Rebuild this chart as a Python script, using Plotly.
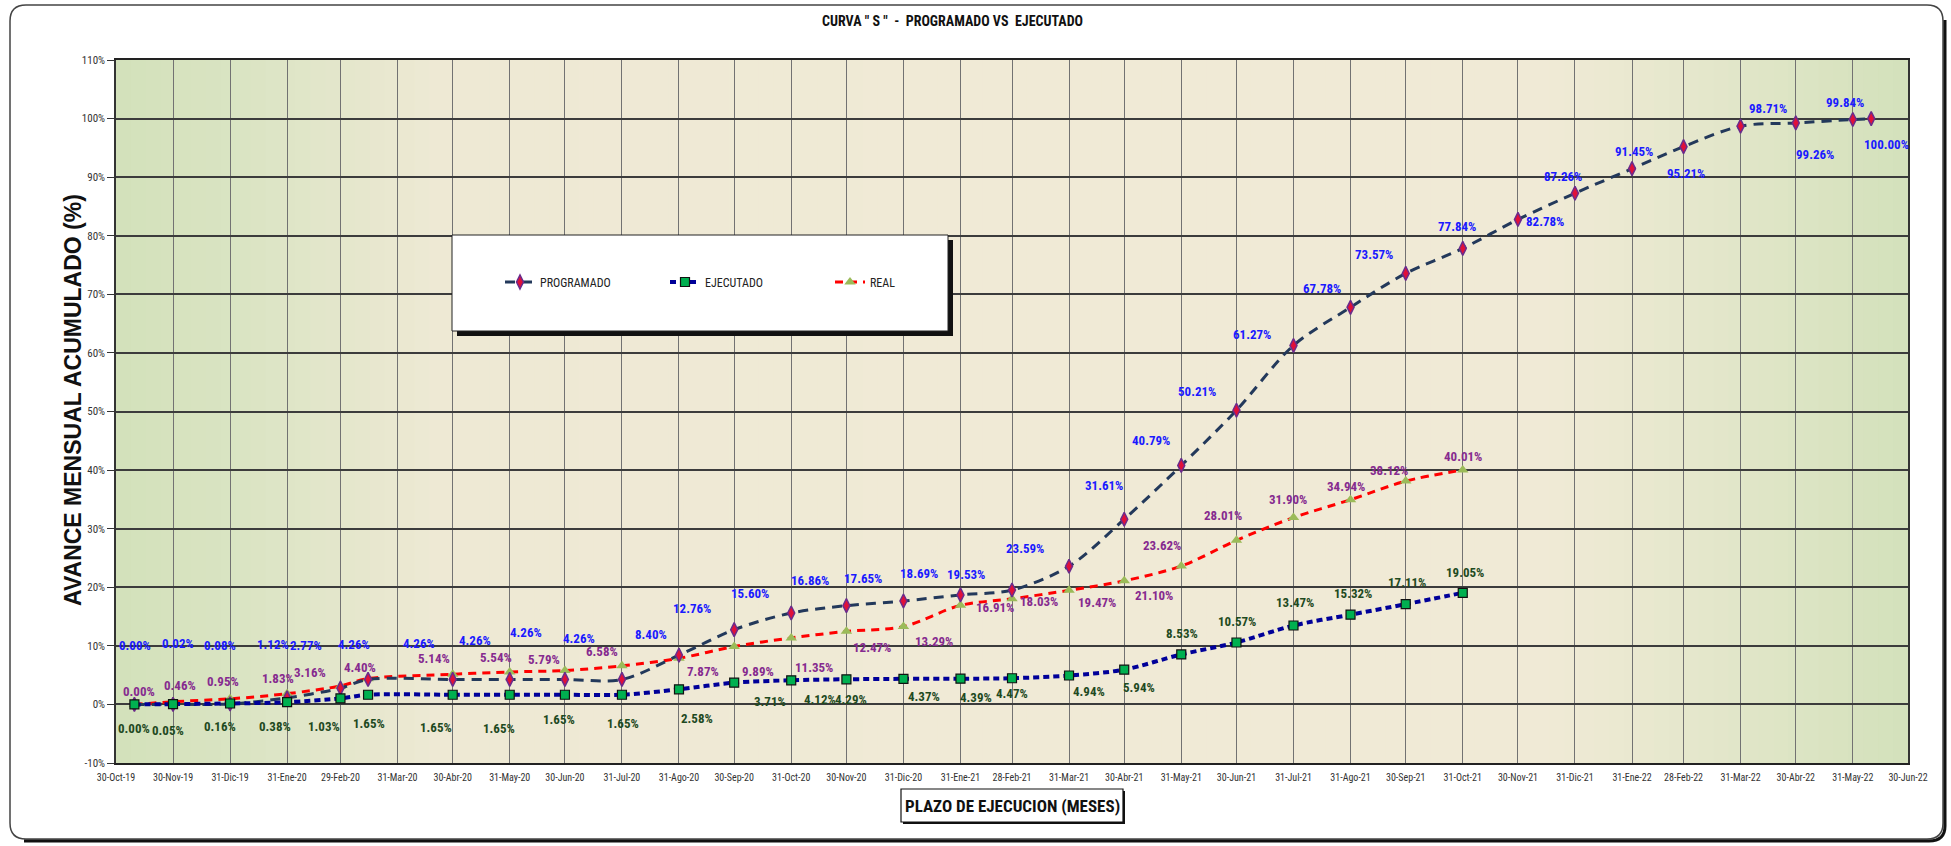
import plotly.graph_objects as go

# ---------------- DATA ----------------
PROG_DATES = ["2019-11-09", "2019-11-30", "2019-12-31", "2020-01-31", "2020-02-29", "2020-03-15",
              "2020-04-30", "2020-05-31", "2020-06-30", "2020-07-31", "2020-08-31", "2020-09-30",
              "2020-10-31", "2020-11-30", "2020-12-31", "2021-01-31", "2021-02-28", "2021-03-31",
              "2021-04-30", "2021-05-31", "2021-06-30", "2021-07-31", "2021-08-31", "2021-09-30",
              "2021-10-31", "2021-11-30", "2021-12-31", "2022-01-31", "2022-02-28", "2022-03-31",
              "2022-04-30", "2022-05-31", "2022-06-10"]
PROGRAMADO = [0.00, 0.02, 0.08, 1.12, 2.77, 4.26, 4.26, 4.26, 4.26, 4.26, 8.40, 12.76, 15.60,
              16.86, 17.65, 18.69, 19.53, 23.59, 31.61, 40.79, 50.21, 61.27, 67.78, 73.57,
              77.84, 82.78, 87.26, 91.45, 95.21, 98.71, 99.26, 99.84, 100.00]

EXEC_DATES = PROG_DATES[:25]
EJECUTADO = [0.00, 0.05, 0.16, 0.38, 1.03, 1.65, 1.65, 1.65, 1.65, 1.65, 2.58, 3.71, 4.12,
             4.29, 4.37, 4.39, 4.47, 4.94, 5.94, 8.53, 10.57, 13.47, 15.32, 17.11, 19.05]
REAL = [0.00, 0.46, 0.95, 1.83, 3.16, 4.40, 5.14, 5.54, 5.79, 6.58, 7.87, 9.89, 11.35,
        12.47, 13.29, 16.91, 18.03, 19.47, 21.10, 23.62, 28.01, 31.90, 34.94, 38.12, 40.01]

TICK_DATES = ["2019-10-30", "2019-11-30", "2019-12-31", "2020-01-31", "2020-02-29", "2020-03-31",
              "2020-04-30", "2020-05-31", "2020-06-30", "2020-07-31", "2020-08-31", "2020-09-30",
              "2020-10-31", "2020-11-30", "2020-12-31", "2021-01-31", "2021-02-28", "2021-03-31",
              "2021-04-30", "2021-05-31", "2021-06-30", "2021-07-31", "2021-08-31", "2021-09-30",
              "2021-10-31", "2021-11-30", "2021-12-31", "2022-01-31", "2022-02-28", "2022-03-31",
              "2022-04-30", "2022-05-31", "2022-06-30"]
TICK_LABELS = ["30-Oct-19", "30-Nov-19", "31-Dic-19", "31-Ene-20", "29-Feb-20", "31-Mar-20",
               "30-Abr-20", "31-May-20", "30-Jun-20", "31-Jul-20", "31-Ago-20", "30-Sep-20",
               "31-Oct-20", "30-Nov-20", "31-Dic-20", "31-Ene-21", "28-Feb-21", "31-Mar-21",
               "30-Abr-21", "31-May-21", "30-Jun-21", "31-Jul-21", "31-Ago-21", "30-Sep-21",
               "31-Oct-21", "30-Nov-21", "31-Dic-21", "31-Ene-22", "28-Feb-22", "31-Mar-22",
               "30-Abr-22", "31-May-22", "30-Jun-22"]
Y_TICKS = [-10, 0, 10, 20, 30, 40, 50, 60, 70, 80, 90, 100, 110]

# ---------------- STYLE (label offsets in screen px: dx right, dy down) ----------------
PROG_OFF = [(1, -59), (5, -61), (-10, -58), (-14, -53), (-34, -43), (-14, -35), (-34, -36),
            (-35, -39), (-39, -47), (-43, -41), (-28, -21), (-42, -21), (-41, -20), (-36, -25),
            (-40, -23), (-41, -21), (-46, -16), (-44, -18), (-20, -34), (-30, -25), (-39, -19),
            (-41, -11), (-29, -19), (-32, -19), (-6, -22), (27, 2), (-12, -17), (2, -17),
            (2, 27), (27, -18), (19, 32), (-8, -17), (15, 26)]
REAL_OFF = [(5, -13), (7, -16), (-7, -17), (-9, -15), (-30, -13), (-8, -11), (-19, -16),
            (-14, -14), (-21, -11), (-20, -14), (24, 13), (24, 25), (23, 30), (26, 16),
            (31, 15), (35, 2), (27, 3), (28, 12), (30, 15), (-19, -21), (-13, -25), (-5, -18),
            (-5, -13), (-17, -11), (0, -14)]
EJEC_OFF = [(0, 24), (-5, 26), (-10, 23), (-12, 24), (-16, 28), (1, 29), (-17, 33), (-11, 34),
            (-6, 25), (1, 29), (18, 29), (36, 19), (29, 19), (5, 20), (21, 18), (16, 19),
            (0, 15), (20, 16), (15, 18), (1, -21), (1, -21), (2, -23), (2, -21), (1, -22),
            (2, -20)]

W, H = 1951, 846
PL, PR, PT, PB = 116, 1908, 60, 763
NARROW = "Liberation Sans Narrow, Arial Narrow, Roboto Condensed, DejaVu Sans Condensed, sans-serif"
ARIAL = "Liberation Sans, Arial, sans-serif"


def pxx(x):
    return (x - PL) / (PR - PL)


def pyy(y):
    return (PB - y) / (PB - PT)


fig = go.Figure()

fig.add_trace(go.Scatter(
    x=EXEC_DATES, y=REAL, name="REAL", mode="lines+markers", legendrank=3,
    line=dict(color="#ff0000", width=3, dash="8px,6px", shape="spline", smoothing=0.9),
    marker=dict(symbol="triangle-up", size=10, color="#9bbb59", line=dict(width=0)),
))
fig.add_trace(go.Scatter(
    x=PROG_DATES, y=PROGRAMADO, name="PROGRAMADO", mode="lines+markers", legendrank=1,
    line=dict(color="#23395b", width=3, dash="10px,7px", shape="spline", smoothing=0.9),
    marker=dict(symbol="diamond-tall", size=10, color="#e0103a", line=dict(color="#6a2c8c", width=1.5)),
))
fig.add_trace(go.Scatter(
    x=EXEC_DATES, y=EJECUTADO, name="EJECUTADO", mode="lines+markers", legendrank=2,
    line=dict(color="#000099", width=4, dash="6px,4px", shape="spline", smoothing=0.9),
    marker=dict(symbol="square", size=9, color="#00b050", line=dict(color="#111111", width=1.2)),
))

annotations = []


def add_labels(dates, vals, offs, color):
    for d, v, (dx, dy) in zip(dates, vals, offs):
        annotations.append(dict(
            x=d, y=v, xref="x", yref="y", text=f"{v:.2f}%", showarrow=False,
            xanchor="center", yanchor="middle", xshift=dx, yshift=-dy,
            font=dict(family=NARROW, size=13, color=color, weight="bold"),
        ))


add_labels(PROG_DATES, PROGRAMADO, PROG_OFF, "#1a1aff")
add_labels(EXEC_DATES, REAL, REAL_OFF, "#862a8f")
add_labels(EXEC_DATES, EJECUTADO, EJEC_OFF, "#1f4a1f")

# Title
annotations.append(dict(
    x=pxx(952), y=pyy(21), xref="paper", yref="paper", showarrow=False,
    xanchor="center", yanchor="middle",
    text='CURVA " S "\u00a0\u00a0-\u00a0\u00a0PROGRAMADO VS\u00a0\u00a0EJECUTADO',
    font=dict(family=NARROW, size=14, color="#111111", weight="bold"),
))
# Y title
annotations.append(dict(
    x=pxx(73), y=pyy(400), xref="paper", yref="paper", showarrow=False, textangle=-90,
    xanchor="center", yanchor="middle",
    text="AVANCE MENSUAL ACUMULADO (%)",
    font=dict(family=ARIAL, size=23, color="#111111", weight="bold"),
))
# X title
annotations.append(dict(
    x=pxx(1012), y=pyy(806), xref="paper", yref="paper", showarrow=False,
    xanchor="center", yanchor="middle",
    text="PLAZO DE EJECUCION (MESES)",
    font=dict(family=NARROW, size=17, color="#111111", weight="bold"),
))

shapes = []
# background gradient
stops = [(0.0, (211, 225, 187)), (0.07, (218, 228, 195)), (0.18, (238, 233, 212)),
         (0.5, (240, 234, 214)), (0.80, (240, 234, 214)), (0.88, (229, 231, 204)),
         (1.0, (211, 225, 187))]


def col(f):
    for (f0, c0), (f1, c1) in zip(stops[:-1], stops[1:]):
        if f0 <= f <= f1:
            t = (f - f0) / (f1 - f0)
            return "rgb(%d,%d,%d)" % tuple(round(a + (b - a) * t) for a, b in zip(c0, c1))
    return "rgb(240,234,214)"


N = 120
for i in range(N):
    f0, f1 = i / N, (i + 1) / N
    shapes.append(dict(type="rect", xref="paper", yref="paper", x0=f0, x1=min(1, f1 + 0.002), y0=0, y1=1,
                       fillcolor=col((f0 + f1) / 2), line=dict(width=0), layer="below"))

# legend box with shadow
shapes.append(dict(type="rect", xref="paper", yref="paper", x0=pxx(457), x1=pxx(953), y0=pyy(336), y1=pyy(240),
                   fillcolor="#111111", line=dict(width=0), layer="above"))
shapes.append(dict(type="rect", xref="paper", yref="paper", x0=pxx(452), x1=pxx(948), y0=pyy(331), y1=pyy(235),
                   fillcolor="#ffffff", line=dict(color="#222222", width=1), layer="above"))

# x title box with shadow
shapes.append(dict(type="rect", xref="paper", yref="paper", x0=pxx(903), x1=pxx(1125), y0=pyy(824), y1=pyy(791),
                   fillcolor="#111111", line=dict(width=0)))
shapes.append(dict(type="rect", xref="paper", yref="paper", x0=pxx(901), x1=pxx(1123), y0=pyy(822), y1=pyy(789),
                   fillcolor="#ffffff", line=dict(color="#111111", width=1.2)))


# outer rounded frame
def rounded(x0, y0, x1, y1, r):
    X = pxx
    Y = pyy
    return (f"M {X(x0 + r)} {Y(y0)} L {X(x1 - r)} {Y(y0)} Q {X(x1)} {Y(y0)} {X(x1)} {Y(y0 + r)} "
            f"L {X(x1)} {Y(y1 - r)} Q {X(x1)} {Y(y1)} {X(x1 - r)} {Y(y1)} "
            f"L {X(x0 + r)} {Y(y1)} Q {X(x0)} {Y(y1)} {X(x0)} {Y(y1 - r)} "
            f"L {X(x0)} {Y(y0 + r)} Q {X(x0)} {Y(y0)} {X(x0 + r)} {Y(y0)} Z")


shapes.append(dict(type="path", xref="paper", yref="paper", path=rounded(10, 5, 1943, 839, 16),
                   line=dict(color="#444444", width=1.5)))
X, Y = pxx, pyy
shapes.append(dict(type="path", xref="paper", yref="paper",
                   path=f"M {X(1945)} {Y(20)} L {X(1945)} {Y(826)} Q {X(1945)} {Y(841)} {X(1929)} {Y(841)} L {X(24)} {Y(841)}",
                   line=dict(color="#111111", width=3)))

fig.update_layout(
    width=W, height=H, autosize=False,
    margin=dict(l=PL, r=W - PR, t=PT, b=H - PB),
    paper_bgcolor="#ffffff", plot_bgcolor="rgb(240,234,214)",
    showlegend=True,
    legend=dict(orientation="h", x=pxx(500), y=pyy(282), xanchor="left", yanchor="middle",
                bgcolor="rgba(0,0,0,0)", borderwidth=0, entrywidth=120, entrywidthmode="pixels",
                font=dict(family=NARROW, size=12, color="#222222"), traceorder="normal"),
    annotations=annotations, shapes=shapes,
    xaxis=dict(type="date", range=[TICK_DATES[0], TICK_DATES[-1]], tickmode="array",
               tickvals=TICK_DATES, ticktext=TICK_LABELS, tickangle=0,
               tickfont=dict(family=NARROW, size=10, color="#333333"),
               ticks="outside", ticklen=4, tickcolor="rgba(0,0,0,0)",
               showgrid=True, gridcolor="#727272", gridwidth=1.2,
               showline=True, linecolor="#222222", linewidth=2, mirror=True, zeroline=False),
    yaxis=dict(range=[-10, 110], tickmode="array", tickvals=Y_TICKS,
               ticktext=[f"{v}%" for v in Y_TICKS],
               tickfont=dict(family=NARROW, size=11, color="#333333"),
               ticks="outside", ticklen=7, tickcolor="#333333", tickwidth=1.2,
               showgrid=True, gridcolor="#3c3c3c", gridwidth=1.8,
               showline=True, linecolor="#333333", linewidth=1.5, mirror=True, zeroline=False),
)

fig.write_html(
    "out.html",
    config={"displayModeBar": False},
    post_script="document.body.style.margin='0';document.body.style.padding='0';"
                "document.documentElement.style.overflow='hidden';",
)
